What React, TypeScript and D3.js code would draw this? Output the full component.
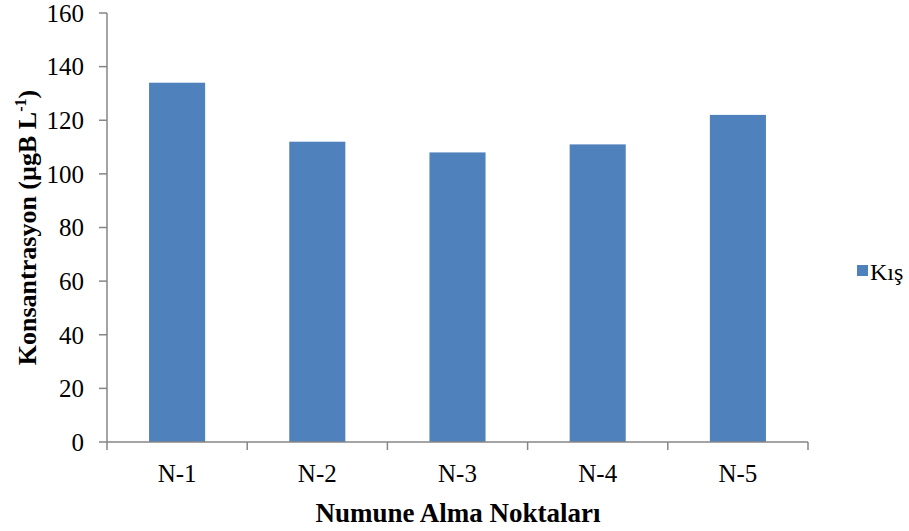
import React from "react";
import * as d3 from "d3";

const categories = ["N-1", "N-2", "N-3", "N-4", "N-5"];
const kisValues = [134, 112, 108, 111, 122];
const yTicks = [0, 20, 40, 60, 80, 100, 120, 140, 160];
const seriesName = "Kış";

const W = 909;
const H = 531;
const plot = { left: 107, right: 808, top: 13, bottom: 442 };
const axisColor = "#868686";
const barColor = "#4F81BD";
const font = "'Liberation Serif', 'Times New Roman', serif";

export default function App() {
  const x = d3
    .scaleBand<string>()
    .domain(categories)
    .range([plot.left, plot.right])
    .padding(0);
  const y = d3.scaleLinear().domain([0, 160]).range([plot.bottom, plot.top]);
  const barW = x.bandwidth() * 0.4;

  return (
    <svg
      width={W}
      height={H}
      style={{ position: "absolute", left: 0, top: 0, background: "#fff" }}
      fontFamily={font}
    >
      {categories.map((c, i) => (
        <rect
          key={c}
          x={(x(c) as number) + (x.bandwidth() - barW) / 2}
          y={y(kisValues[i])}
          width={barW}
          height={y(0) - y(kisValues[i])}
          fill={barColor}
        />
      ))}

      {/* y axis */}
      <line x1={plot.left} x2={plot.left} y1={plot.top} y2={plot.bottom} stroke={axisColor} strokeWidth={1.5} />
      {yTicks.map((t) => (
        <g key={t}>
          <line x1={plot.left - 8} x2={plot.left} y1={y(t)} y2={y(t)} stroke={axisColor} strokeWidth={1.5} />
          <text x={84} y={y(t)} dy="0.35em" textAnchor="end" fontSize={25} fill="#000">
            {t}
          </text>
        </g>
      ))}

      {/* x axis */}
      <line x1={plot.left} x2={plot.right} y1={plot.bottom} y2={plot.bottom} stroke={axisColor} strokeWidth={1.5} />
      {[...categories.map((c) => x(c) as number), plot.right].map((p, i) => (
        <line key={i} x1={p} x2={p} y1={plot.bottom} y2={plot.bottom + 8} stroke={axisColor} strokeWidth={1.5} />
      ))}
      {categories.map((c) => (
        <text
          key={c}
          x={(x(c) as number) + x.bandwidth() / 2}
          y={482}
          textAnchor="middle"
          fontSize={25}
          fill="#000"
        >
          {c}
        </text>
      ))}

      {/* axis titles */}
      <text x={458} y={522} textAnchor="middle" fontSize={27} fontWeight="bold" fill="#000">
        Numune Alma Noktaları
      </text>
      <text
        transform={`translate(36, ${(plot.top + plot.bottom) / 2}) rotate(-90)`}
        textAnchor="middle"
        fontSize={26}
        fontWeight="bold"
        fill="#000"
      >
        Konsantrasyon (µgB L
        <tspan dy={-10} fontSize={16}>-1</tspan>
        <tspan dy={10}>)</tspan>
      </text>

      {/* legend */}
      <rect x={857} y={265} width={11} height={11} fill={barColor} />
      <text x={870} y={280} fontSize={24} fill="#000">
        {seriesName}
      </text>
    </svg>
  );
}
